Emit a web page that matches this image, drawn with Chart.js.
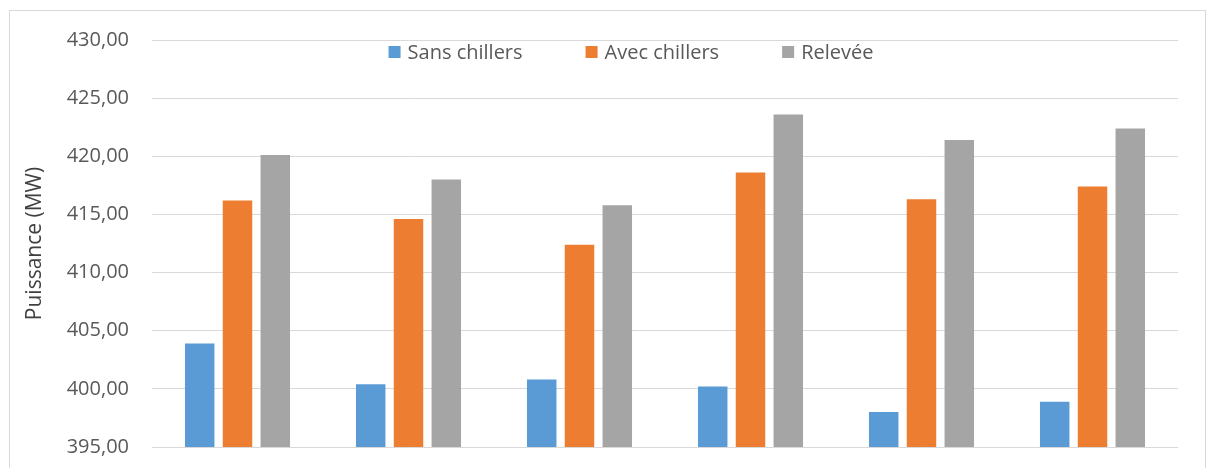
<!DOCTYPE html>
<html lang="fr">
<head>
<meta charset="utf-8">
<title>Puissance (MW)</title>
<script src="https://cdn.jsdelivr.net/npm/chart.js@4.4.1/dist/chart.umd.min.js"></script>
<style>
  html, body { margin: 0; padding: 0; background: #ffffff; overflow: hidden; }
  #wrap { position: relative; width: 1207px; height: 468px; overflow: hidden; }
  canvas { display: block; }
</style>
</head>
<body>
<div id="wrap"><canvas id="chart" width="1207" height="482"></canvas></div>
<script>
// Séries mesurées / simulées
const categories = ['1', '2', '3', '4', '5', '6'];
const sansChillers = [403.9, 400.4, 400.8, 400.2, 398.0, 398.9];
const avecChillers = [416.2, 414.6, 412.4, 418.6, 416.3, 417.4];
const relevee = [420.1, 418.0, 415.8, 423.6, 421.4, 422.4];
const seriesNames = ['Sans chillers', 'Avec chillers', 'Relevée'];
const yMin = 395, yMax = 430, yStep = 5;

const colors = ['#5B9BD5', '#ED7D31', '#A5A5A5'];
const FONT = '"Open Sans", "Noto Sans", sans-serif';

// Cadre gris clair autour du graphique
const framePlugin = {
  id: 'frame',
  beforeDraw(chart) {
    const ctx = chart.ctx;
    ctx.save();
    ctx.strokeStyle = '#D9D9D9';
    ctx.lineWidth = 1;
    ctx.strokeRect(9.5, 10.5, 1196, 520);
    ctx.restore();
  }
};

// Légende horizontale posée dans la zone de tracé
const insideLegend = {
  id: 'insideLegend',
  afterDraw(chart, args, opts) {
    const ctx = chart.ctx;
    ctx.save();
    ctx.font = opts.fontSize + 'px ' + FONT;
    ctx.textBaseline = 'middle';
    const items = chart.data.datasets.map(ds => ({
      text: ds.label, color: ds.backgroundColor, w: ctx.measureText(ds.label).width
    }));
    const total = items.reduce((s, it) => s + opts.box + opts.gap + it.w, 0) + opts.spacing * (items.length - 1);
    let x = opts.centerX - total / 2;
    const y = opts.centerY;
    items.forEach(it => {
      ctx.fillStyle = it.color;
      ctx.fillRect(x, y - opts.box / 2, opts.box, opts.box);
      x += opts.box + opts.gap;
      ctx.fillStyle = '#595959';
      ctx.fillText(it.text, x, y + 1);
      x += it.w + opts.spacing;
    });
    ctx.restore();
  }
};

const seriesValues = [sansChillers, avecChillers, relevee];

new Chart(document.getElementById('chart'), {
  type: 'bar',
  data: {
    labels: categories,
    datasets: seriesValues.map((vals, i) => ({
      label: seriesNames[i],
      data: vals,
      backgroundColor: colors[i],
      borderWidth: 0,
      categoryPercentage: 0.663,
      barPercentage: 0.78
    }))
  },
  options: {
    responsive: false,
    devicePixelRatio: 1,
    animation: false,
    layout: { padding: { left: 0, right: 29, top: 40, bottom: 21 } },
    plugins: {
      legend: { display: false },
      tooltip: { enabled: false },
      insideLegend: { centerX: 631, centerY: 52, box: 12, gap: 7, spacing: 63, fontSize: 20 }
    },
    scales: {
      x: { display: false },
      y: {
        min: yMin,
        max: yMax,
        border: { display: false },
        grid: { color: '#D9D9D9', lineWidth: 1, drawTicks: false },
        ticks: {
          stepSize: yStep,
          padding: 23,
          color: '#595959',
          font: { family: FONT, size: 20 },
          callback: v => v.toFixed(2).replace('.', ',')
        },
        title: {
          display: true,
          text: 'Puissance (MW)',
          color: '#404040',
          font: { family: FONT, size: 21 },
          padding: { top: 22, bottom: 0 }
        },
        afterFit(scale) { scale.width = 152; }
      }
    }
  },
  plugins: [framePlugin, insideLegend]
});
</script>
</body>
</html>
